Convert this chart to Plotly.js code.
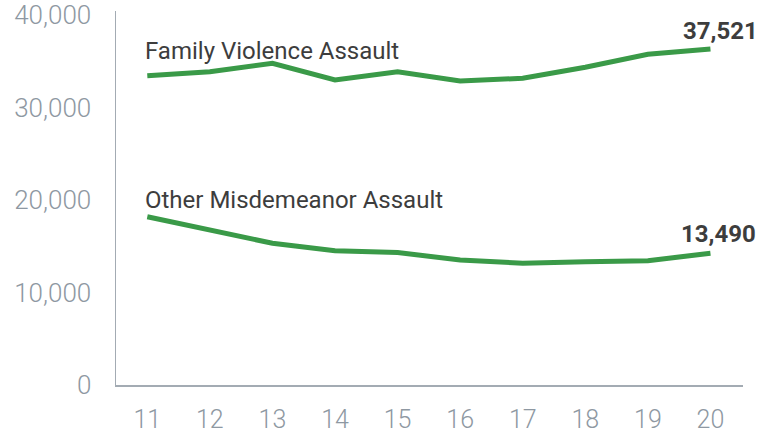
<!DOCTYPE html>
<html>
<head>
<meta charset="utf-8">
<script src="https://cdn.plot.ly/plotly-3.0.1.min.js"></script>
<style>
html,body{margin:0;padding:0;background:#fff;}
#chart{width:778px;height:437px;}
</style>
</head>
<body>
<div id="chart"></div>
<script>

/* DATA */

const years = [11,12,13,14,15,16,17,18,19,20]

const familyViolence = [33440,33870,34780,32970,33870,32860,33160,34350,35750,36320]

const otherMisdemeanor = [18190,16720,15320,14520,14320,13510,13160,13330,13440,14240]

const seriesNames = ["Family Violence Assault","Other Misdemeanor Assault"]

const endLabels = ["37,521","13,490"]

const yTicks = [0,10000,20000,30000,40000]
const yTickText = ["0","10,000","20,000","30,000","40,000"]

/* STYLE */

const green = "#3a9a48"
const axisGrey = "#a3abb3"
const tickGrey = "#8e98a2"
const textDark = "#3d3d3d"
const fontFam = "Roboto, 'Open Sans', sans-serif"

/* TRACES */

let traces = [familyViolence,otherMisdemeanor].map(function(vals,i){
return {
x:years,
y:vals,
type:"scatter",
mode:"lines",
name:seriesNames[i],
line:{color:green,width:5},
hoverinfo:"skip"
}
})

/* LABELS */

let annotations = []

// series names, left aligned with first year
annotations.push({
x:years[0],y:36110,xref:"x",yref:"y",
text:seriesNames[0],showarrow:false,
xanchor:"left",yanchor:"middle",xshift:-4,
font:{family:fontFam,size:24,color:textDark}
})

annotations.push({
x:years[0],y:20050,xref:"x",yref:"y",
text:seriesNames[1],showarrow:false,
xanchor:"left",yanchor:"middle",xshift:-4,
font:{family:fontFam,size:24,color:textDark}
})

// end values, bold
let last = years.length-1

annotations.push({
x:years[last],y:familyViolence[last],xref:"x",yref:"y",
text:"<b>"+endLabels[0]+"</b>",showarrow:false,
xanchor:"center",yanchor:"bottom",xshift:10,yshift:2,
font:{family:fontFam,size:24,color:textDark}
})

annotations.push({
x:years[last],y:otherMisdemeanor[last],xref:"x",yref:"y",
text:"<b>"+endLabels[1]+"</b>",showarrow:false,
xanchor:"center",yanchor:"bottom",xshift:8,yshift:3,
font:{family:fontFam,size:24,color:textDark}
})

/* LAYOUT */

let layout = {
width:778,
height:437,
margin:{l:116,r:35,t:11,b:52},
paper_bgcolor:"#fff",
plot_bgcolor:"#fff",
showlegend:false,
font:{family:fontFam},
xaxis:{
range:[10.5,20.52],
tickvals:years,
ticktext:years.map(String),
showgrid:false,
zeroline:false,
showline:true,
linecolor:axisGrey,
linewidth:1.5,
ticks:"",
ticklabelstandoff:11,
tickfont:{family:fontFam,size:25,weight:300,color:tickGrey}
},
yaxis:{
range:[0,40430],
tickvals:yTicks,
ticktext:yTickText,
showgrid:false,
zeroline:false,
showline:true,
linecolor:axisGrey,
linewidth:1.5,
ticks:"",
ticklabelstandoff:18,
ticklabeloverflow:"allow",
tickfont:{family:fontFam,size:26,weight:300,color:tickGrey}
},
annotations:annotations
}

Plotly.newPlot("chart",traces,layout,{displayModeBar:false,staticPlot:true})

</script>
</body>
</html>
